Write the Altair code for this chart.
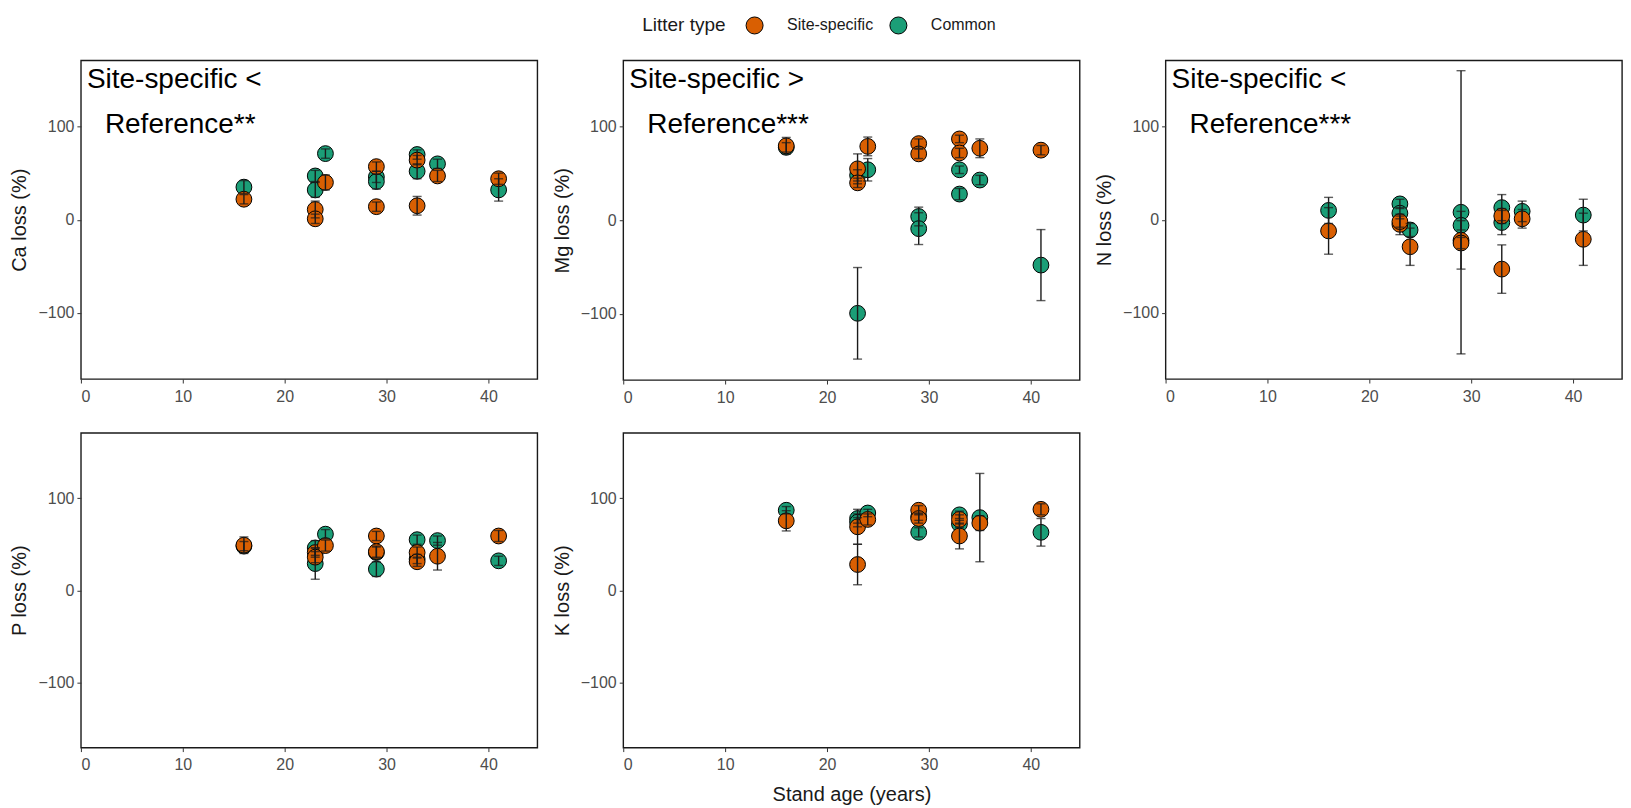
import altair as alt
import pandas as pd

FONT = "Liberation Sans"

# ---- data ----
AGES = [16, 23, 23, 24, 29, 29, 33, 33, 35, 41]
LITTER_TYPES = ["Site-specific", "Common"]
COLORS = ["#D95F02", "#1B9E77"]
X_TICKS = [0, 10, 20, 30, 40]
Y_TICKS = [-100, 0, 100]

Y_TITLES = {"Ca": "Ca loss (%)", "Mg": "Mg loss (%)", "N": "N loss (%)",
            "P": "P loss (%)", "K": "K loss (%)"}
NOTE_LINE1 = {"Ca": "Site-specific <", "Mg": "Site-specific >", "N": "Site-specific <"}
NOTE_LINE2 = {"Ca": "Reference**", "Mg": "Reference***", "N": "Reference***"}

SITE_MEAN = {
    "Ca": [22, 11, 1, 40, 57, 14, 64, 15, 47, 44],
    "Mg": [79.6, 55, 40, 79, 82, 71, 87, 72, 77, 75],
    "N":  [-12, -5, -2, -29, -22, -25, 4, -53, 1, -21],
    "P":  [49, 41, 36, 48.6, 59, 42, 41, 31, 37, 59],
    "K":  [75.5, 69, 28, 77, 87, 78, 77, 59, 73, 88],
}
SITE_ERR = {
    "Ca": [5, 9, 5, 8, 5, 5, 5, 10, 6, 6],
    "Mg": [9, 16, 5, 10, 5, 5, 4, 5, 10, 5],
    "N":  [25, 11, 6, 20, 31, 6, 8, 26, 10, 28],
    "P":  [9, 5, 6, 6, 5, 6, 6, 5, 15, 6],
    "K":  [11, 19, 22, 6, 5, 5, 5, 14, 8, 6],
}
COMMON_MEAN = {
    "Ca": [35, 47, 32, 71, 46, 41, 70, 52, 60, 32],
    "Mg": [78, 48, -99.6, 54, 4, -9, 54, 28, 43, -48],
    "N":  [10, 17, 7, -11, 8, -6, 13, -3, 9, 5],
    "P":  [48, 46, 29, 61, 41, 23, 55, 34, 54, 32],
    "K":  [87, 78, 74, 84, 80, 63, 82, 72, 79, 63],
}
COMMON_ERR = {
    "Ca": [7, 6, 8, 5, 6, 8, 5, 8, 5, 12],
    "Mg": [5, 6, 49, 12, 10, 17, 4, 6, 5, 38],
    "N":  [14, 5, 6, 7, 152, 5, 14, 13, 11, 17],
    "P":  [5, 8, 17, 5, 6, 8, 5, 5, 5, 5],
    "K":  [4, 5, 5, 4, 4, 5, 4, 4, 48, 15],
}


def panel_df(nut):
    rows = []
    for t, means, errs in (("Common", COMMON_MEAN, COMMON_ERR),
                           ("Site-specific", SITE_MEAN, SITE_ERR)):
        for a, m, e in zip(AGES, means[nut], errs[nut]):
            rows.append({"age": a, "type": t, "mean": m, "lo": m - e, "hi": m + e})
    return pd.DataFrame(rows)


color_scale = alt.Scale(domain=LITTER_TYPES, range=COLORS)
legend = alt.Legend(
    title="Litter type", orient="none", legendX=557, legendY=-50,
    direction="horizontal", titleOrient="left", symbolType="circle",
    symbolSize=290, symbolStrokeColor="black", symbolStrokeWidth=1,
    labelFontSize=16, titleFontSize=19, titlePadding=19, labelOffset=23,
    columnPadding=13, padding=5, titleFontWeight="normal",
    titleColor="#1a1a1a", labelColor="#1a1a1a", labelFont=FONT, titleFont=FONT,
    titleBaseline="middle", titleAnchor="middle",
)


def panel(nut, height, x_title=None):
    df = panel_df(nut)
    xscale = alt.Scale(domain=[0, 44.8], nice=False, zero=False)
    yscale = alt.Scale(domain=[-171, 171], nice=False, zero=False)
    xaxis = alt.Axis(values=X_TICKS, title=x_title)
    yaxis = alt.Axis(values=Y_TICKS, title=Y_TITLES[nut])
    base = alt.Chart(df)
    pts = base.mark_circle(size=250, stroke="black", strokeWidth=1, opacity=1).encode(
        x=alt.X("age:Q", scale=xscale, axis=xaxis),
        y=alt.Y("mean:Q", scale=yscale, axis=yaxis),
        color=alt.Color("type:N", scale=color_scale, legend=legend),
    )
    err = base.mark_errorbar(
        ticks={"size": 9, "thickness": 1.4, "color": "#1a1a1a"},
        rule={"strokeWidth": 1.4, "color": "#1a1a1a"},
        color="#1a1a1a", thickness=1.4,
    ).encode(
        x=alt.X("age:Q", scale=xscale, axis=xaxis),
        y=alt.Y("lo:Q", scale=yscale, axis=yaxis),
        y2="hi:Q",
    )
    layers = [pts, err]
    if nut in NOTE_LINE1:
        t1 = alt.Chart(pd.DataFrame({"t": [NOTE_LINE1[nut]]})).mark_text(
            align="left", baseline="alphabetic", fontSize=28, font=FONT, color="black"
        ).encode(x=alt.value(6), y=alt.value(28), text="t:N")
        t2 = alt.Chart(pd.DataFrame({"t": [NOTE_LINE2[nut]]})).mark_text(
            align="left", baseline="alphabetic", fontSize=28, font=FONT, color="black"
        ).encode(x=alt.value(24), y=alt.value(73), text="t:N")
        layers += [t1, t2]
    return alt.layer(*layers).properties(width=457, height=height)


row1 = alt.hconcat(panel("Ca", 319), panel("Mg", 320), panel("N", 319), spacing=13)
row2 = alt.hconcat(panel("P", 315), panel("K", 315, x_title="Stand age (years)"), spacing=13)

chart = alt.vconcat(row1, row2, spacing=26).properties(
    padding={"left": 1, "top": 2, "right": 0, "bottom": 0}
).configure_view(
    stroke="#1a1a1a", strokeWidth=1.4
).configure_axis(
    grid=False, domain=False, tickColor="#333333", tickSize=4, tickWidth=1,
    labelColor="#4d4d4d", labelFontSize=16, labelFont=FONT, labelPadding=3,
    titleFont=FONT, titleFontSize=20, titleColor="#1a1a1a", titleFontWeight="normal",
    titlePadding=8,
).configure_axisX(
    labelPadding=5, titlePadding=12,
)

chart.save("out.html", embed_options={"renderer": "svg", "actions": False})
